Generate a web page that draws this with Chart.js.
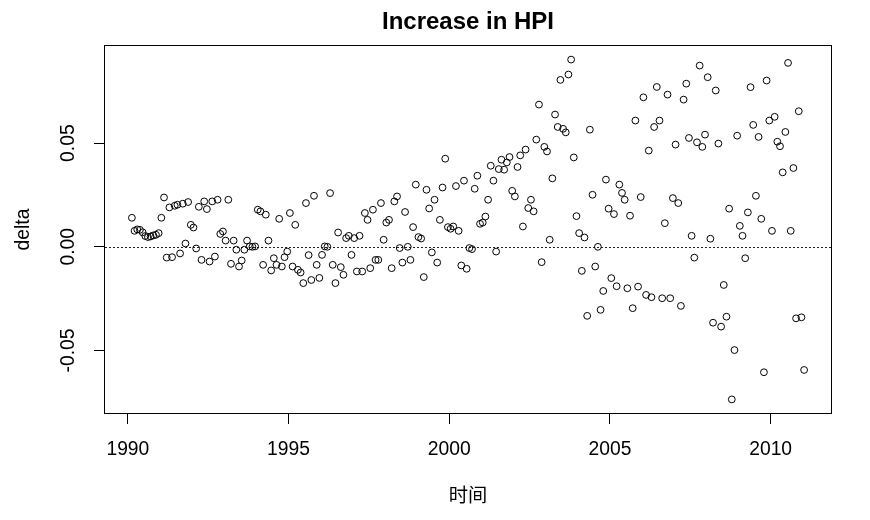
<!DOCTYPE html>
<html>
<head>
<meta charset="utf-8">
<title>Increase in HPI</title>
<script src="https://cdn.jsdelivr.net/npm/chart.js@4/dist/chart.umd.min.js"></script>
<style>
    html, body { margin: 0; padding: 0; background: #fff; }
    #wrap { width: 870px; height: 520px; }
</style>
</head>
<body>
<div id="wrap"><canvas id="hpi-chart" width="870" height="520"></canvas></div>
<script>
// Monthly change in HPI (first month ~ 1990.125)
const startYear = 1990 + 1.5 / 12;

const delta = [
    // 1990
    0.014, 0.0077, 0.0084, 0.0082, 0.007, 0.0052, 0.0047, 0.005, 0.0055, 0.0058, 0.0066, 0.014,
    // 1991 - 1992
    0.0238, -0.0052, 0.019, -0.005, 0.0198, 0.0203, -0.0032, 0.0208, 0.0016, 0.0216, 0.0106, 0.0093,
    -0.0008, 0.0193, -0.0063, 0.0219, 0.0182, -0.0071, 0.0219, -0.0047, 0.0227,
    // 1992 - 1995
    0.0062, 0.0074, 0.003, 0.0227, -0.0082, 0.003, -0.0014, -0.0095, -0.0066, -0.0014, 0.003, 0.0002,
    0, 0.0002, 0.0179, 0.0171, -0.0087, 0.0155, 0.003, -0.0114, -0.0055, -0.0087, 0.0135, -0.0095,
    -0.005, -0.0023, 0.0163, -0.0095, 0.0106, -0.0111, -0.0124, -0.0175, 0.0211, -0.004, -0.016, 0.0246,
    -0.0087, -0.015,
    // 1996 - 1998
    -0.0039, 0.0002, 0, 0.0259, -0.0087, -0.0175, 0.0069, -0.0098, -0.0135, 0.0042, 0.0053, -0.0039,
    0.0042, -0.0119, 0.0053, -0.0119, 0.0163, 0.013, -0.0103, 0.0179, -0.0063, -0.0063, 0.0211, 0.0034,
    0.0117, 0.013, -0.0103, 0.0219, 0.0243, -0.0006, -0.0076, 0.0168, 0, -0.0063,
    // 1999 - 2001
    0.0095, 0.030, 0.0047, 0.004, -0.0146, 0.0275, 0.0185, -0.0027, 0.0227, -0.0076, 0.013, 0.0286,
    0.0425, 0.0095, 0.0087, 0.0098, 0.0293, 0.0077, -0.009, 0.0319, -0.0106, -0.0006, -0.0011, 0.028,
    0.0343, 0.0111, 0.0117, 0.0146, 0.0227, 0.0391, 0.0319, -0.0023, 0.0375, 0.042,
    // 2002 - 2005
    0.0372, 0.0407, 0.0433, 0.027, 0.0243, 0.0385, 0.0441, 0.0098, 0.0469, 0.0187, 0.0227, 0.0171,
    0.0517, 0.0686, -0.0074, 0.0482, 0.046, 0.0034, 0.033, 0.0638, 0.0578, 0.0805, 0.0569, 0.0552,
    0.0831, 0.0903, 0.0431, 0.0148, 0.0066, -0.0116, 0.0045, -0.0333, 0.0565, 0.0251, -0.0095, 0,
    -0.0304, -0.0213, 0.0324, 0.0184, -0.0151, 0.0158, -0.019,
    // 2006 - 2008
    0.03, 0.026, 0.0227, -0.02, 0.015, -0.0296, 0.0609, -0.0192, 0.024, 0.0721, -0.0232, 0.0464,
    -0.0243, 0.0578, 0.0771, 0.0609, -0.0248, 0.0114, 0.0734, -0.0248, 0.0235, 0.0493, 0.0211, -0.0285,
    0.071, 0.0787, 0.0525, 0.0053, -0.0052, 0.0504, 0.0874, 0.0482, 0.0541, 0.0818, 0.0039, -0.0366,
    0.0754, 0.0498, -0.0385, -0.0184, -0.0337,
    // 2009 - 2011
    0.0184, -0.0736, -0.0498, 0.0536, 0.0101, 0.0053, -0.0055, 0.0166, 0.077, 0.0588, 0.0246, 0.053,
    0.0135, -0.0605, 0.0802, 0.0609, 0.0077, 0.0627, 0.0507, 0.0485, 0.0359, 0.0554, 0.0887, 0.0077,
    0.038, -0.0345, 0.0654, -0.034, -0.0594
];

const xTicks = [1990, 1995, 2000, 2005, 2010];
const yTicks = [-0.05, 0, 0.05];

const times = delta.map((_, i) => startYear + i / 12);

const FONT = "'Liberation Sans', Arial, 'Noto Sans CJK SC', sans-serif";

// R style axis limits: data range plus 4% each side
function rRange(vals) {
    const lo = Math.min(...vals);
    const hi = Math.max(...vals);
    const pad = (hi - lo) * 0.04;
    return [lo - pad, hi + pad];
}

const xr = rRange(times);
const yr = rRange(delta);

// box round the plot + dotted line at 0 (abline h=0)
const rBox = {
    id: 'rBox',
    beforeDatasetsDraw(chart) {
        const { ctx, chartArea: a, scales } = chart;
        ctx.save();
        ctx.strokeStyle = '#000';
        ctx.lineWidth = 1;
        ctx.strokeRect(a.left - 0.5, a.top - 0.5, a.right - a.left + 1, a.bottom - a.top + 1);

        const y0 = Math.round(scales.y.getPixelForValue(0)) + 0.5;
        ctx.setLineDash([2, 2]);
        ctx.strokeStyle = '#222';
        ctx.beginPath();
        ctx.moveTo(a.left, y0);
        ctx.lineTo(a.right, y0);
        ctx.stroke();
        ctx.restore();
    }
};

document.addEventListener('DOMContentLoaded', () => {
    const ctx = document.getElementById('hpi-chart');

    new Chart(ctx, {
        type: 'scatter',
        data: {
            datasets: [{
                data: times.map((t, i) => ({ x: t, y: delta[i] })),
                pointStyle: 'circle',
                pointRadius: 3.4,
                pointHoverRadius: 3.4,
                pointBorderWidth: 1,
                borderColor: '#000',
                backgroundColor: 'rgba(0,0,0,0)'
            }]
        },
        options: {
            responsive: false,
            animation: false,
            events: [],
            layout: { padding: { left: 0, right: 39, top: 0, bottom: 0 } },
            plugins: {
                legend: { display: false },
                tooltip: { enabled: false },
                title: {
                    display: true,
                    text: 'Increase in HPI',
                    fullSize: false,
                    color: '#000',
                    font: { family: FONT, size: 24, weight: 'bold', lineHeight: 1.2 },
                    padding: { top: 7.6, bottom: 9.6 }
                }
            },
            scales: {
                x: {
                    type: 'linear',
                    position: 'bottom',
                    min: xr[0],
                    max: xr[1],
                    afterBuildTicks: s => { s.ticks = xTicks.map(v => ({ value: v })); },
                    afterFit: s => { s.height = 107; },
                    border: { display: false },
                    grid: { drawOnChartArea: false, drawTicks: true, tickLength: 11, color: '#000', tickColor: '#000' },
                    ticks: {
                        color: '#000',
                        font: { family: FONT, size: 19.3 },
                        padding: 14,
                        maxRotation: 0,
                        autoSkip: false,
                        callback: v => String(v)
                    },
                    title: {
                        display: true,
                        text: '时间',
                        color: '#000',
                        font: { family: FONT, size: 19.3 },
                        padding: { top: 0, bottom: 11.4 }
                    }
                },
                y: {
                    type: 'linear',
                    position: 'left',
                    min: yr[0],
                    max: yr[1],
                    afterBuildTicks: s => { s.ticks = yTicks.map(v => ({ value: v })); },
                    afterFit: s => { s.width = 105; },
                    border: { display: false },
                    grid: { drawOnChartArea: false, drawTicks: true, tickLength: 11, color: '#000', tickColor: '#000' },
                    ticks: {
                        color: '#000',
                        font: { family: FONT, size: 19.3 },
                        minRotation: 90,
                        maxRotation: 90,
                        crossAlign: 'center',
                        padding: 3.7,
                        callback: v => v.toFixed(2)
                    },
                    title: {
                        display: true,
                        text: 'delta',
                        color: '#000',
                        font: { family: FONT, size: 19.3 },
                        padding: { top: 11.9, bottom: 0 }
                    }
                }
            }
        },
        plugins: [rBox]
    });
});
</script>
</body>
</html>
